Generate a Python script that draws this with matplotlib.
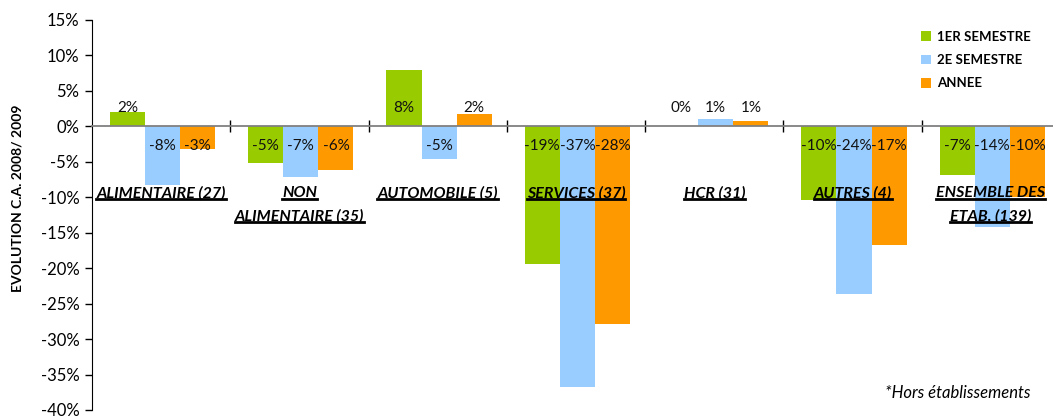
import matplotlib.pyplot as plt
from matplotlib.lines import Line2D
from matplotlib.ticker import FuncFormatter, MultipleLocator, FixedLocator
import numpy as np

plt.rcParams['font.family'] = ['Lato', 'DejaVu Sans']

# categories (each line of the label kept separately)
categories = [["ALIMENTAIRE (27)"], ["NON", "ALIMENTAIRE (35)"], ["AUTOMOBILE (5)"],
              ["SERVICES (37)"], ["HCR (31)"], ["AUTRES (4)"], ["ENSEMBLE DES", "ETAB. (139)"]]
sem1 = [2.0, -5.1, 8.0, -19.4, 0.0, -10.4, -6.9]
sem2 = [-8.2, -7.2, -4.6, -36.8, 1.1, -23.6, -14.2]
annee = [-3.2, -6.1, 1.8, -27.9, 0.7, -16.8, -10.0]
series_names = ["1ER SEMESTRE", "2E SEMESTRE", "ANNEE"]
colors = ["#99CC00", "#99CCFF", "#FF9900"]


def pct(v):
    n = int(np.floor(abs(v) + 0.5))
    return f"-{n}%" if (v < 0 and n) else f"{n}%"


fig = plt.figure(figsize=(10.53, 4.16), dpi=100)
ax = fig.add_axes([92 / 1053, 6 / 416, 968 / 1053, 390 / 416])

x = np.arange(len(categories))
w = 0.254
series = [sem1, sem2, annee]
for k, (vals, name, c) in enumerate(zip(series, series_names, colors)):
    xs = x + (k - 1) * w + 0.01
    ax.bar(xs, vals, width=w, color=c, label=name, zorder=2)
    for xi, v in zip(xs, vals):
        ylab = 2.65 if v >= 0 else -2.75
        ax.text(xi, ylab, pct(v), ha='center', va='center',
                fontsize=11, color='#111111', zorder=3)

ax.set_xlim(-0.5, len(categories) - 0.5)
ax.set_ylim(-40, 15)
ax.yaxis.set_major_locator(MultipleLocator(5))
ax.yaxis.set_major_formatter(FuncFormatter(lambda v, p: f"{v:.0f}%"))
ax.tick_params(axis='y', labelsize=12, length=5, width=1, direction='out', pad=4)
ax.spines['top'].set_visible(False)
ax.spines['right'].set_visible(False)
ax.spines['left'].set_color('black')
ax.spines['bottom'].set_position(('data', 0))
ax.spines['bottom'].set_color('#808080')
ax.spines['bottom'].set_linewidth(1.3)
ax.spines['bottom'].set_zorder(4)
ax.xaxis.set_major_locator(FixedLocator(x))
ax.xaxis.set_minor_locator(FixedLocator(np.arange(0.5, len(categories), 1)))
ax.tick_params(axis='x', which='major', length=0, labelbottom=False)
ax.tick_params(axis='x', which='minor', length=8, width=1, direction='inout', color='black')

fig.text(18 / 1053, 1 - 198 / 416, "EVOLUTION C.A. 2008/ 2009", fontsize=10, fontweight='bold',
         rotation=90, ha='center', va='center')

# category labels, bold italic underlined
cat_texts = []
line_y = [-9.45, -12.75]
for xi, lines in zip(x, categories):
    for j, line in enumerate(lines):
        t = ax.text(xi, line_y[j], line, ha='center', va='center', fontsize=11.5,
                    fontweight='bold', fontstyle='italic', color='black', zorder=5)
        cat_texts.append(t)

leg = ax.legend(loc='upper left', bbox_to_anchor=(909 / 1053, 1 - 19 / 416), bbox_transform=fig.transFigure,
                frameon=False, handlelength=0.75, handleheight=0.75,
                labelspacing=0.85, handletextpad=0.5, prop={'weight': 'bold', 'size': 9.5})

fig.text(885 / 1053, 1 - 393 / 416, "*Hors établissements", fontsize=12,
         fontstyle='italic', va='center', ha='left')

fig.canvas.draw()
r = fig.canvas.get_renderer()
for t in cat_texts:
    bb = t.get_window_extent(r)
    yl = bb.y0 + 1.5
    fig.add_artist(Line2D([bb.x0 / 1053, bb.x1 / 1053], [yl / 416, yl / 416],
                          transform=fig.transFigure, color='black', linewidth=2))

fig.savefig("out.png", dpi=100)
